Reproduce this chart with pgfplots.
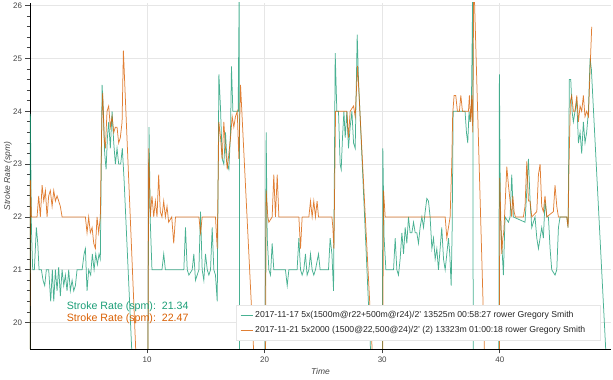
\documentclass[border=0pt]{standalone}
\usepackage{fontspec}
\setmainfont{Liberation Sans}
\usepackage{pgfplots}
\pgfplotsset{compat=1.18}
\definecolor{cgreen}{HTML}{1B9E77}
\definecolor{corange}{HTML}{D95F02}
\definecolor{gridc}{HTML}{E6E6E6}
\definecolor{tickc}{HTML}{444444}
\begin{document}
\begin{tikzpicture}
\begin{axis}[
  scale only axis, width=581bp, height=346bp,
  xmin=0.05, xmax=49.45, ymin=19.5, ymax=26.05,
  axis x line*=bottom, axis y line*=left,
  axis line style={-, black, line width=0.8bp},
  xtick={10,20,30,40}, ytick={20,21,22,23,24,25,26}, minor y tick num=4,
  tick align=outside, major tick length=4.5bp, minor tick length=3bp,
  tick style={tickc, line width=0.8bp},
  grid=major, major grid style={gridc, line width=0.8bp},
  ticklabel style={font=\fontsize{8}{9}\selectfont, text=tickc},
  /pgf/number format/assume math mode=true,
  xlabel={Time}, ylabel={Stroke Rate (spm)},
  every axis x label/.style={at={(rel axis cs:0.5,0)}, yshift=-22.7bp, anchor=center,
     font=\fontsize{8.5}{10}\selectfont\itshape, text=tickc},
  every axis y label/.style={at={(rel axis cs:0,0.5)}, xshift=-22bp, rotate=90, anchor=center,
     font=\fontsize{8.5}{10}\selectfont\itshape, text=tickc},
  legend style={at={(0.3546,0.024)}, anchor=south west, draw=gridc, fill=white,
    font=\fontsize{8.7}{9.5}\selectfont, text=black!85, inner xsep=4bp, inner ysep=4.5bp, row sep=3.2bp},
  legend cell align=left,
]
\addplot[cgreen, line width=0.75bp, opacity=0.8,
  legend image code/.code={\draw[cgreen, line width=1bp] (0bp,0bp) -- (12bp,0bp);}] coordinates {
(0.0,18) (0.08,23.95) (0.17,21.8) (0.28,21.0) (0.42,21.0) (0.59,21.8) (0.71,21.5) (0.82,21.0) (1.02,21.0)
(1.16,20.8) (1.30,20.7) (1.44,21.0) (1.64,21.0) (1.81,20.4) (1.95,21.0) (2.07,20.4) (2.21,21.0) (2.35,20.6)
(2.49,21.05) (2.63,20.5) (2.78,21.0) (2.92,20.7) (3.06,20.9) (3.20,20.6) (3.34,21.0) (3.48,20.6) (3.63,20.8)
(3.77,20.6) (3.91,20.7) (4.05,21.0) (4.48,21.0) (4.65,21.3) (4.76,21.4) (4.90,20.6) (5.04,21.0) (5.21,20.9)
(5.35,21.3) (5.50,21.0) (5.64,21.3) (5.78,21.1) (5.92,21.3) (6.03,21.2) (6.18,24.5) (6.29,24.0) (6.40,23.2)
(6.52,22.9) (6.63,23.5) (6.74,23.8) (6.88,23.3) (7.03,24.0) (7.17,23.4) (7.31,23.0) (7.45,23.3) (7.59,23.0)
(7.76,23.0) (7.90,23.3) (8.05,22.7) (9.0,18.0) (10.05,18.0) (10.17,23.7) (10.28,21.9) (10.42,21.0) (11.27,21.0)
(11.42,21.3) (11.56,21.0) (12.0,21.0) (13.13,21.0) (13.27,21.8) (13.42,21.0) (13.56,20.9) (13.84,21.0)
(13.98,21.3) (14.12,20.8) (14.41,21.0) (14.55,22.1) (14.69,21.0) (14.83,20.8) (14.97,21.3) (15.12,21.0)
(15.26,20.9) (15.40,21.0) (15.54,21.8) (15.68,21.0) (15.82,20.9) (15.97,20.4) (16.11,24.7) (16.25,24.05)
(16.39,23.1) (16.53,23.0) (16.67,23.6) (16.82,23.0) (16.96,22.9) (17.10,23.6) (17.18,24.85) (17.30,24.0)
(17.75,24.0) (17.84,26.4) (17.88,18.0) (20.0,18.0) (20.13,23.6) (20.22,21.6) (20.36,21.0) (20.50,20.9)
(20.64,21.5) (20.78,21.0) (21.77,21.0) (21.92,20.7) (22.06,21.0) (22.76,21.0) (22.91,21.6) (23.05,21.0)
(23.19,20.9) (23.33,21.0) (23.47,21.3) (23.61,20.9) (23.76,21.0) (23.90,21.3) (24.04,21.0) (24.18,20.9)
(24.32,21.0) (24.58,21.3) (24.72,21.0) (25.43,21.0) (25.57,21.6) (25.72,21.3) (25.86,20.6) (26.0,25.1)
(26.14,24.0) (26.28,24.0) (26.42,23.0) (26.51,22.9) (26.62,23.5) (26.74,24.0) (26.85,23.5) (26.99,24.0)
(27.13,23.3) (27.27,23.7) (27.42,24.0) (27.56,23.4) (27.70,23.3) (27.87,25.45) (27.98,24.6) (29.3,18.0)
(30.0,18.0) (30.05,23.3) (30.16,21.6) (30.31,21.0) (30.96,21.0) (31.10,21.6) (31.24,21.0) (31.38,20.9)
(31.52,21.2) (31.67,21.7) (31.81,21.3) (31.95,21.8) (32.09,21.5) (32.23,22.0) (32.37,21.7) (32.52,21.7)
(32.66,21.9) (32.80,21.7) (32.94,21.7) (33.08,21.5) (33.22,21.8) (33.37,22.0) (33.51,21.8) (33.65,22.1)
(33.79,22.35) (33.93,22.3) (34.07,22.0) (34.22,21.4) (34.36,21.6) (34.50,21.2) (34.64,21.4) (34.78,21.0)
(34.92,21.4) (35.06,21.8) (35.21,21.2) (35.35,21.0) (35.49,21.3) (35.63,21.6) (35.74,21.3) (35.86,20.7)
(35.94,21.7) (36.03,24.0) (36.34,24.0) (37.04,24.0) (37.16,23.6) (37.27,23.4) (37.38,24.0) (37.47,23.8)
(37.58,24.1) (37.70,26.4) (37.74,18.0) (39.9,18.0) (39.96,24.7) (40.05,22.0) (40.16,21.5) (40.30,20.9)
(40.44,22.0) (40.73,21.9) (40.87,22.0) (41.01,22.8) (41.15,22.0) (42.14,21.9) (42.29,22.5) (42.43,23.1)
(42.57,22.3) (42.71,21.8) (42.85,21.9) (42.99,22.0) (43.14,21.6) (43.28,21.4) (43.42,21.6) (43.56,21.8)
(43.70,21.6) (43.84,22.3) (43.99,22.0) (44.13,22.0) (44.27,21.4) (44.41,21.0) (44.69,20.9) (44.84,21.0)
(44.98,21.8) (45.12,22.0) (45.69,22.0) (45.80,21.8) (45.91,24.6) (46.03,24.6) (46.14,24.0) (46.25,23.8)
(46.39,24.0) (46.54,24.2) (46.68,23.4) (46.82,23.6) (46.96,23.2) (47.10,23.8) (47.24,23.4) (47.38,23.6)
(47.53,24.0) (47.67,25.0) (47.78,24.8) (49.23,18.5)
};
\addlegendentry{2017-11-17 5x(1500m@r22+500m@r24)/2' 13525m 00:58:27 rower Gregory Smith}
\addplot[corange, line width=0.75bp, opacity=0.8,
  legend image code/.code={\draw[corange, line width=1bp] (0bp,0bp) -- (12bp,0bp);}] coordinates {
(0.0,18) (0.08,22.7) (0.17,22.0) (0.65,22.0) (0.79,22.4) (0.93,22.0) (1.08,22.6) (1.22,22.3) (1.36,22.5)
(1.50,22.0) (1.64,22.4) (1.78,22.5) (1.93,22.2) (2.07,22.5) (2.21,22.3) (2.35,22.4) (2.49,22.3) (2.63,22.2)
(2.78,22.0) (4.76,22.0) (4.90,21.7) (5.04,22.0) (5.18,21.7) (5.33,21.8) (5.47,21.5) (5.61,21.4) (5.75,22.0)
(5.89,21.7) (6.03,22.0) (6.15,23.8) (6.23,24.35) (6.35,23.5) (6.46,23.3) (6.60,24.0) (6.74,24.1) (6.88,23.7)
(7.03,23.9) (7.17,23.6) (7.31,23.7) (7.45,23.7) (7.59,23.4) (7.73,23.5) (7.88,23.8) (7.99,25.15) (9.5,17.0)
(10.05,17.0) (10.14,23.3) (10.28,22.0) (10.42,22.4) (10.57,22.0) (10.71,22.3) (10.85,22.0) (10.99,22.8)
(11.13,22.1) (11.27,22.0) (11.42,22.3) (11.56,22.0) (11.70,22.2) (11.84,21.9) (12.1,22.0) (12.27,21.5)
(12.42,22.0) (14.41,22.0) (14.55,21.7) (14.69,22.0) (15.82,22.0) (15.97,21.4) (16.11,23.8) (16.25,23.5)
(16.39,23.1) (16.53,23.8) (16.67,23.3) (16.82,22.9) (16.96,23.2) (17.10,23.5) (17.24,23.9) (17.38,23.7)
(17.52,23.9) (17.67,24.0) (17.81,23.1) (17.95,24.5) (19.5,17.5) (20.05,17.5) (20.13,22.5) (20.27,22.0)
(20.36,21.9) (20.64,22.0) (20.78,22.8) (20.92,22.0) (21.07,22.8) (21.21,22.0) (22.91,22.0) (23.05,21.4)
(23.19,22.0) (23.76,22.0) (23.90,22.3) (24.04,22.0) (24.18,22.3) (24.32,22.0) (24.46,22.3) (24.58,22.0)
(25.72,22.0) (25.80,21.8) (25.89,21.4) (26.03,24.0) (26.99,24.0) (27.13,23.5) (27.27,24.0) (27.56,24.1)
(27.70,23.9) (27.90,24.86) (29.6,17.5) (30.0,17.5) (30.11,22.5) (30.25,22.0) (35.35,22.0) (35.49,21.6)
(35.63,21.8) (35.77,22.0) (35.91,23.0) (35.99,23.95) (36.11,24.3) (36.25,24.3) (36.39,24.0) (36.56,24.0)
(36.68,24.3) (36.82,24.0) (37.33,24.0) (37.41,24.3) (37.53,23.8) (37.61,24.3) (37.70,23.6) (37.78,26.6)
(39.0,17.0) (39.95,17.0) (39.99,22.74) (40.16,21.3) (40.25,21.6) (40.33,21.7) (40.44,22.2) (40.59,22.95)
(40.73,22.6) (40.87,22.3) (41.01,22.0) (41.10,22.4) (41.21,22.1) (41.32,22.0) (42.0,22.0) (42.14,22.2)
(42.29,23.05) (42.43,22.3) (42.57,22.3) (42.71,22.0) (43.14,22.1) (43.28,22.8) (43.42,23.0) (43.56,22.2)
(43.70,22.1) (43.84,22.4) (43.99,22.0) (44.55,22.1) (44.69,22.6) (44.84,22.2) (44.98,22.0) (45.69,22.0)
(45.80,21.8) (45.88,23.0) (46.0,24.2) (46.11,24.3) (46.25,24.0) (46.39,24.0) (46.54,24.3) (46.68,23.8)
(46.82,24.1) (46.96,24.0) (47.10,24.3) (47.24,23.9) (47.38,24.0) (47.53,23.9) (47.67,24.8) (47.81,25.6)
};
\addlegendentry{2017-11-21 5x2000 (1500@22,500@24)/2' (2) 13323m 01:00:18 rower Gregory Smith\rule{9bp}{0pt}}
\node[anchor=west, text=cgreen, font=\fontsize{10.67}{12}\selectfont, inner sep=0pt] at (rel axis cs:0.063,0.122) {Stroke Rate (spm):\ \ 21.34};
\node[anchor=west, text=corange, font=\fontsize{10.67}{12}\selectfont, inner sep=0pt] at (rel axis cs:0.063,0.086) {Stroke Rate (spm):\ \ 22.47};
\end{axis}
\pgfresetboundingbox
\path[use as bounding box] (-30bp,-31bp) rectangle (583bp,349bp);
\end{tikzpicture}
\end{document}
